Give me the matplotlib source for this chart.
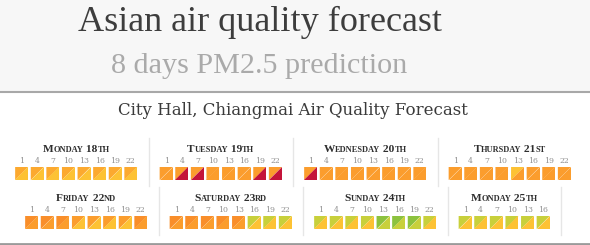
import matplotlib
matplotlib.use("Agg")
import matplotlib.pyplot as plt

# ---- data -------------------------------------------------------------
title = "Asian air quality forecast"
subtitle = "8 days PM2.5 prediction"
station = "City Hall, Chiangmai Air Quality Forecast"

days = ["Monday 18th", "Tuesday 19th", "Wednesday 20th", "Thursday 21st",
        "Friday 22nd", "Saturday 23rd", "Sunday 24th", "Monday 25th"]
hours = [[1, 4, 7, 10, 13, 16, 19, 22]] * 7 + [[1, 4, 7, 10, 13, 16]]

# level codes per 3-hour slot: upper-left triangle / lower-right triangle
upper = ["AAAAAAAA", "OOOOOOOO", "OOOOOOOO", "OOOOYOOO",
         "DDDOOOOD", "DDDDDLLL", "LLLLGGGL", "LLLLLL"]
lower = ["YYYYYYYY", "ORROOORR", "ROOOOOOO", "OOOOOOOO",
         "OOOYYYYO", "OOOOOYYY", "YYYYLLLY", "YYYYYY"]

level_colors = {"Y": "#fdc234", "A": "#fca92f", "O": "#fb9d2d",
                "D": "#f98e2a", "R": "#c4143a", "L": "#c8d03b",
                "G": "#8cc23e"}

# ---- layout (pixels) ---------------------------------------------------
W, H = 590, 245
rows = [[0, 1, 2, 3], [4, 5, 6, 7]]
row_x0 = [4, 14]
row_top = [138, 187]
pitch = 15.6
tile = 13.0
pad = 19.7

fig = plt.figure(figsize=(W / 100, H / 100), dpi=100)
ax = fig.add_axes([0, 0, 1, 1])
ax.set_xlim(0, W)
ax.set_ylim(H, 0)
ax.axis("off")

# header band
ax.fill([0, W, W, 0], [0, 0, 91, 91], color="#f7f7f7", zorder=0)
ax.plot([0, W], [92, 92], color="#a8a8a8", lw=1.5)
ax.plot([0, W], [243.5, 243.5], color="#9a9a9a", lw=2)

ax.text(260, 22, title, ha="center", va="center", fontsize=26,
        family="Liberation Serif", color="#3d3d3d")
ax.text(259, 66, subtitle, ha="center", va="center", fontsize=21.7,
        family="Liberation Serif", color="#aaaaaa")
ax.text(292.5, 110, station, ha="center", va="center", fontsize=12,
        family="DejaVu Serif", color="#3a3a3a")

renderer = fig.canvas.get_renderer()


def small_caps(xc, y, s, big=8.2, small=6.0):
    # split into runs of full size caps/digits and small caps
    runs = []
    for ch in s:
        sz = small if ch.islower() else big
        if runs and runs[-1][1] == sz:
            runs[-1][0] += ch.upper()
        else:
            runs.append([ch.upper(), sz])
    items = []
    total = 0
    for txt, sz in runs:
        t = ax.text(0, y, txt, fontsize=sz, family="Liberation Serif",
                    weight="bold", color="#2e2e2e", va="baseline", ha="left")
        w = t.get_window_extent(renderer).width
        items.append((t, w))
        total += w
    x = xc - total / 2
    for t, w in items:
        t.set_x(x)
        x += w


for r, row in enumerate(rows):
    x0 = row_x0[r]
    top = row_top[r]
    for k, d in enumerate(row):
        n = len(hours[d])
        width = n * pitch + pad
        xc = x0 + width / 2
        small_caps(xc, top + 14, days[d])
        tx0 = xc - (n * pitch - (pitch - tile)) / 2
        ty = top + 29
        for i in range(n):
            xl = tx0 + i * pitch
            ax.text(xl + tile / 2, ty - 4, str(hours[d][i]), ha="center",
                    va="baseline", fontsize=5.6, family="DejaVu Serif",
                    color="#8f8f8f")
            cu = level_colors[upper[d][i]]
            cl = level_colors[lower[d][i]]
            ax.fill([xl, xl + tile, xl], [ty, ty, ty + tile], color=cu,
                    lw=0, zorder=2)
            ax.fill([xl + tile, xl + tile, xl], [ty, ty + tile, ty + tile],
                    color=cl, lw=0, zorder=2)
        x0 += width
        if not (r == 0 and k == len(row) - 1):
            ax.plot([x0, x0], [top, top + 48], color="#e6e6e6", lw=1)

fig.savefig("out.png", dpi=100)
